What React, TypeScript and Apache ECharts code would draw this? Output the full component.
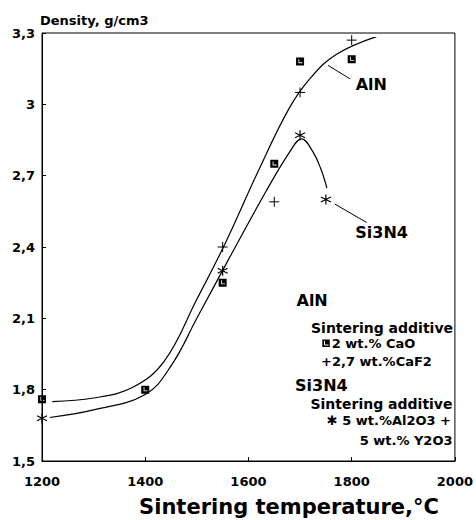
import React, { useEffect, useRef } from "react";
import * as echarts from "echarts";

// Fitted curves
const alnCurveX = [1220, 1300, 1376, 1437, 1500, 1556, 1617, 1678, 1720, 1770, 1848];
const alnCurveY = [1.75, 1.765, 1.81, 1.92, 2.18, 2.42, 2.71, 2.98, 3.11, 3.21, 3.285];
const siCurveX = [1215, 1300, 1400, 1450, 1500, 1562, 1633, 1680, 1703, 1725, 1740, 1752];
const siCurveY = [1.683, 1.715, 1.78, 1.9, 2.1, 2.35, 2.63, 2.8, 2.855, 2.8, 2.73, 2.648];

// Measured points
const caoX = [1200, 1400, 1550, 1650, 1700, 1800];
const caoY = [1.76, 1.8, 2.25, 2.75, 3.18, 3.19];
const caf2X = [1550, 1650, 1700, 1800];
const caf2Y = [2.4, 2.59, 3.05, 3.27];
const siX = [1200, 1550, 1700, 1750];
const siY = [1.68, 2.3, 2.87, 2.6];

const FONT = "'DejaVu Sans', sans-serif";
const SQUARE = "path://M0,0H10V10H0Z M3,2V7H8V6H4V2Z";
const PLUS = "path://M5,0V10M0,5H10";
const STAR = "path://M5,0V10M0.67,2.5L9.33,7.5M0.67,7.5L9.33,2.5";

const zip = (xs: number[], ys: number[]) => xs.map((x, i) => [x, ys[i]]);

export default function App() {
  const ref = useRef<HTMLDivElement>(null);
  useEffect(() => {
    document.body.style.margin = "0";
    if (!ref.current) return;
    const chart = echarts.init(ref.current, null, { renderer: "svg" });
    const axisCommon = {
      axisLine: { show: true, lineStyle: { color: "#000", width: 1 } },
      axisTick: { show: true, inside: true, length: 4, lineStyle: { color: "#000" } },
      splitLine: { show: false },
    };
    chart.setOption({
      animation: false,
      backgroundColor: "#fff",
      grid: { left: 42, right: 19, top: 33, bottom: 59, show: true, borderColor: "#000", borderWidth: 1, backgroundColor: "transparent" },
      xAxis: {
        type: "value",
        min: 1200,
        max: 2000,
        interval: 200,
        ...axisCommon,
        axisLabel: { color: "#000", fontFamily: FONT, fontWeight: "bold", fontSize: 13, margin: 14, formatter: (v: number) => String(v) },
      },
      yAxis: {
        type: "value",
        min: 1.5,
        max: 3.3,
        interval: 0.3,
        ...axisCommon,
        axisLabel: {
          color: "#000",
          fontFamily: FONT,
          fontWeight: "bold",
          fontSize: 13,
          margin: 7,
          formatter: (v: number) => String(+v.toFixed(1)).replace(".", ","),
        },
      },
      series: [
        { type: "line", data: zip(alnCurveX, alnCurveY), smooth: 0.4, symbol: "none", lineStyle: { color: "#000", width: 1.2 }, z: 2 },
        { type: "line", data: zip(siCurveX, siCurveY), smooth: 0.4, symbol: "none", lineStyle: { color: "#000", width: 1.2 }, z: 2 },
        { type: "scatter", data: zip(caoX, caoY), symbol: SQUARE, symbolSize: 8, itemStyle: { color: "#000", opacity: 1 }, z: 3 },
        { type: "scatter", data: zip(caf2X, caf2Y), symbol: PLUS, symbolSize: 10, itemStyle: { color: "#000", borderColor: "#000", borderWidth: 1, opacity: 1 }, z: 3 },
        { type: "scatter", data: zip(siX, siY), symbol: STAR, symbolSize: 10, itemStyle: { color: "#000", borderColor: "#000", borderWidth: 1.2, opacity: 1 }, z: 3 },
      ],
    });

    const px = (x: number, y: number) => chart.convertToPixel({ gridIndex: 0 }, [x, y]) as number[];
    const a1 = px(1754, 3.164), a2 = px(1797, 3.107), aL = px(1838, 3.083);
    const s1 = px(1767, 2.581), s2 = px(1829, 2.503), sL = px(1858, 2.459);
    const txt = (text: string, x: number, y: number, size: number, align = "left", weight = "bold") => ({
      type: "text",
      x,
      y,
      style: { text, fill: "#000", font: `${weight} ${size}px ${FONT}`, textAlign: align, textVerticalAlign: "middle" },
      z: 10,
    });
    const line = (p: number[], q: number[]) => ({
      type: "line",
      shape: { x1: p[0], y1: p[1], x2: q[0], y2: q[1] },
      style: { stroke: "#000", lineWidth: 1 },
      z: 10,
    });
    chart.setOption({
      graphic: [
        txt("Density, g/cm3", 40, 20, 13),
        txt("Sintering temperature,°C", 289, 507, 21, "center"),
        line(a1, a2),
        txt("AlN", aL[0], aL[1], 16, "center"),
        line(s1, s2),
        txt("Si3N4", sL[0], sL[1], 16, "center"),
        txt("AlN", 296.5, 300, 16),
        txt("Sintering additive", 311, 327.7, 14),
        { type: "rect", shape: { x: 322.3, y: 339.5, width: 7.5, height: 7.5 }, style: { fill: "#000" }, z: 10 },
        { type: "polyline", shape: { points: [[324.5, 340.8], [324.5, 345], [328.5, 345]] }, style: { stroke: "#fff", lineWidth: 1, fill: null }, z: 11 },
        txt("2 wt.% CaO", 331.7, 343.3, 13),
        txt("+2,7 wt.%CaF2", 321, 361.7, 13),
        txt("Si3N4", 295, 385, 16),
        txt("Sintering additive", 452.5, 403.7, 14, "right"),
        txt("✱ 5 wt.%Al2O3 +", 451, 420.7, 13, "right"),
        txt("5 wt.% Y2O3", 452.5, 440, 13, "right"),
      ],
    });
    return () => chart.dispose();
  }, []);
  return <div ref={ref} style={{ width: 476, height: 520 }} />;
}
